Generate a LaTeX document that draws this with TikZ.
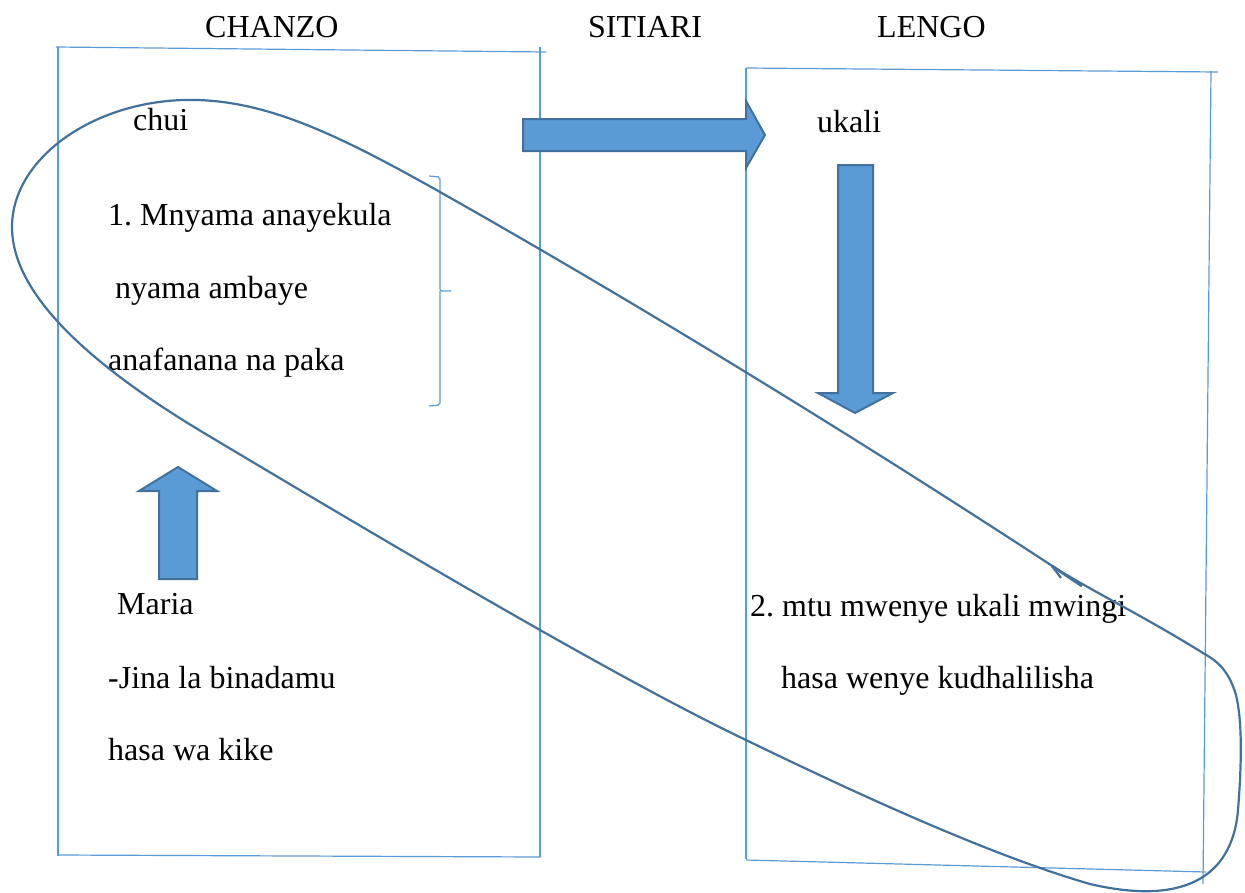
\documentclass[tikz,border=0pt]{standalone}
\usepackage{fontspec}
\setmainfont{Liberation Serif}
\usepackage{xcolor}
\definecolor{boxblue}{HTML}{5B9BD5}
\definecolor{edgeblue}{HTML}{41719C}
\frenchspacing

\begin{document}
\begin{tikzpicture}[
        x=1pt, y=-1pt,
        every node/.style={font=\fontsize{32}{38}\selectfont, inner sep=0pt, anchor=base west},
        frame/.style={draw=boxblue, line width=1.2pt},
        blockarrow/.style={draw=edgeblue, fill=boxblue, line width=2pt, line join=miter},
        loopline/.style={draw=edgeblue, line width=2.2pt}
    ]
    \useasboundingbox (0,0) rectangle (1245,892);

    % headings
    \node (chanzo) at (205,37) {CHANZO};
    \node (sitiari) at (588,37) {SITIARI};
    \node (lengo) at (877,37) {LENGO};

    % left frame (chanzo)
    \draw[frame] (56,47) -- (546,52);
    \draw[frame] (58,47) -- (58,856);
    \draw[frame] (58,855) -- (541,857);
    \draw[frame] (540,47) -- (540,857);

    % right frame (lengo)
    \draw[frame] (746,68) -- (1218,72);
    \draw[frame] (746,68) -- (746,859);
    \draw[frame] (746,860) -- (1206,872);
    \draw[frame] (1211,71) -- (1203,884);

    % texts of chanzo
    \node (chui) at (133,130) {chui};
    \node (mnyama) at (108,225) {1. Mnyama anayekula};
    \node (nyama) at (115,298) {nyama ambaye};
    \node (paka) at (108,370) {anafanana na paka};
    \node (maria) at (117,614) {Maria};
    \node (jina) at (108,688) {-Jina la binadamu};
    \node (kike) at (108,760) {hasa wa kike};

    % texts of lengo
    \node (ukali) at (817,132) {ukali};
    \node (mtu) at (750,616) {2. mtu mwenye ukali mwingi};
    \node (wenye) at (781,688) {hasa wenye kudhalilisha};

    % brace
    \draw[frame, rounded corners=2pt] (429,176) -- (440,177) -- (440,291) -- (451,291);
    \draw[frame, rounded corners=2pt] (440,291) -- (440,405) -- (429,406);

    % block arrows
    \draw[blockarrow] (523,119) -- (746,119) -- (746,101) -- (765,135) -- (746,168) -- (746,151) -- (523,151) -- cycle;
    \draw[blockarrow] (838,165) -- (873,165) -- (873,393) -- (893,393) -- (855,413) -- (818,393) -- (838,393) -- cycle;
    \draw[blockarrow] (159,579) -- (159,491) -- (139,491) -- (178,467) -- (217,491) -- (197,491) -- (197,579) -- cycle;

    % loop round chui and ukali
    \draw[loopline] (1060,571) .. controls (860,440) and (640,305) .. (440,192)
        .. controls (330,130) and (260,98) .. (183,100)
        .. controls (90,103) and (12,160) .. (12,227)
        .. controls (12,300) and (104,373) .. (204,433)
        .. controls (400,550) and (620,680) .. (746,740)
        .. controls (880,805) and (1000,858) .. (1090,884)
        .. controls (1180,905) and (1232,880) .. (1238,810)
        .. controls (1242,760) and (1242,720) .. (1236,695)
        .. controls (1228,668) and (1215,660) .. (1203,653)
        .. controls (1150,620) and (1100,595) .. (1060,571) -- cycle;
    \draw[loopline, line width=2.8pt] (1052,566) -- (1082,586);
    \draw[loopline] (1052,566) -- (1061,578);

\end{tikzpicture}
\end{document}
